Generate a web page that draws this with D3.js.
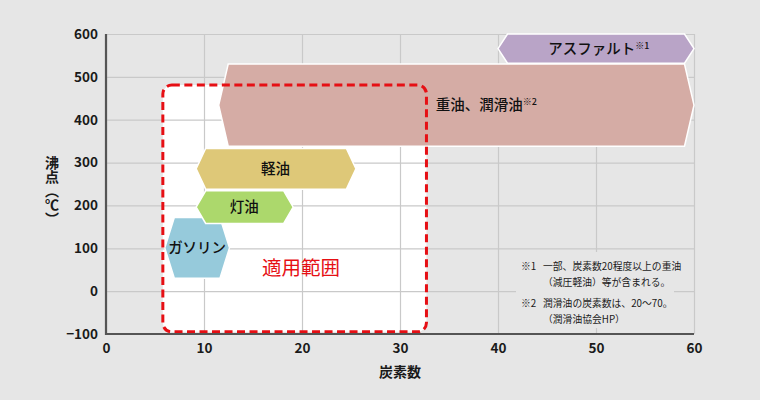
<!DOCTYPE html>
<html><head><meta charset="utf-8">
<script src="https://cdn.jsdelivr.net/npm/d3@7"></script>
<style>
html,body{margin:0;padding:0;background:#e6e6e6;}
svg{display:block;font-family:"Noto Sans CJK JP","Noto Sans",sans-serif;}
</style></head>
<body><svg id="c" width="760" height="400"></svg>
<script>
// ---- data ----
const fuels      = ["ガソリン", "灯油", "軽油", "重油、潤滑油", "アスファルト"];
const fuelNotes  = ["", "", "", "※2", "※1"];
const carbonMin  = [6.0, 9.2, 9.2, 11.5, 40];
const carbonMax  = [12.6, 19.1, 25.5, 60, 60];
const boilMin    = [30, 158, 238, 338, 532];
const boilMax    = [172, 234, 333, 530, 600];
const labelCarbon = [9.3, 14.1, 17.3, 38.8, 50.3];
const fuelColors = ["#96cadb", "#acd86c", "#dec878", "#d5aca5", "#b9a4c7"];
const rangeCarbon = [5.8, 32.7];
const rangeBoil   = [-95, 481];
const rangeLabel  = "適用範囲";
const xTicks = [0, 10, 20, 30, 40, 50, 60];
const yTicks = [-100, 0, 100, 200, 300, 400, 500, 600];
const xTitle = "炭素数";
const yTitle = "沸点（℃）";
const noteLines = [
  ["※1", "一部、炭素数20程度以上の重油"],
  ["", "（減圧軽油）等が含まれる。"],
  ["※2", "潤滑油の炭素数は、20〜70。"],
  ["", "（潤滑油協会HP）"]
];

// ---- layout ----
const svg = d3.select("#c");
const m = {l:106, t:34, r:66, b:66};
const W = 760 - m.l - m.r, H = 400 - m.t - m.b;
const x = d3.scaleLinear().domain([0, 60]).range([m.l, m.l + W]);
const y = d3.scaleLinear().domain([-100, 600]).range([m.t + H, m.t]);

svg.append("rect").attr("width", 760).attr("height", 400).attr("fill", "#e6e6e6");

// applicable range fill
const rx0 = x(rangeCarbon[0]), rx1 = x(rangeCarbon[1]);
const ry0 = y(rangeBoil[1]), ry1 = y(rangeBoil[0]);
svg.append("rect").attr("x", rx0).attr("y", ry0).attr("width", rx1 - rx0).attr("height", ry1 - ry0)
  .attr("rx", 9).attr("fill", "#ffffff");

// grid
const gx = svg.append("g").attr("transform", `translate(0,${m.t + H})`)
  .call(d3.axisBottom(x).tickValues(xTicks).tickSize(-H).tickFormat(""));
const gy = svg.append("g").attr("transform", `translate(${m.l},0)`)
  .call(d3.axisLeft(y).tickValues(yTicks).tickSize(-W).tickFormat(""));
[gx, gy].forEach(g => { g.select(".domain").remove(); g.selectAll("line").attr("stroke", "#c9c9c9").attr("stroke-width", 1.2); });

// notes backdrop
svg.append("rect").attr("x", 516).attr("y", 252).attr("width", 158).attr("height", 76).attr("fill", "#e6e6e6");

// hexagons
const k = 9.5;
function hex(i) {
  const x0 = x(carbonMin[i]), x1 = x(carbonMax[i]);
  const yt = y(boilMax[i]), yb = y(boilMin[i]), ym = (yt + yb) / 2;
  return `M${x0},${ym}L${x0 + k},${yt}L${x1 - k},${yt}L${x1},${ym}L${x1 - k},${yb}L${x0 + k},${yb}Z`;
}
const idx = d3.range(fuels.length);
svg.append("g").selectAll("path").data(idx).join("path")
  .attr("d", hex).attr("fill", i => fuelColors[i])
  .attr("stroke", "#ffffff").attr("stroke-width", 1.5).attr("stroke-linejoin", "miter");

// labels
const lab = svg.append("g").selectAll("text").data(idx).join("text")
  .attr("x", i => x(labelCarbon[i]))
  .attr("y", i => (y(boilMax[i]) + y(boilMin[i])) / 2)
  .attr("dy", "0.36em").attr("text-anchor", "middle")
  .attr("font-size", 14.5).attr("font-weight", 500).attr("fill", "#111");
lab.append("tspan").text(i => fuels[i]);
lab.append("tspan").attr("font-size", 9).attr("dy", "-0.55em").text(i => fuelNotes[i]);

// dashed border
svg.append("rect").attr("x", rx0).attr("y", ry0).attr("width", rx1 - rx0).attr("height", ry1 - ry0)
  .attr("rx", 9).attr("fill", "none").attr("stroke", "#e60f14").attr("stroke-width", 3)
  .attr("stroke-dasharray", "8,4.5");
svg.append("text").attr("x", x(19.9)).attr("y", y(55)).attr("dy", "0.36em").attr("text-anchor", "middle")
  .attr("font-size", 19.5).attr("fill", "#e60f14").text(rangeLabel);

// axes
svg.append("line").attr("x1", m.l).attr("x2", m.l).attr("y1", m.t).attr("y2", m.t + H + 1)
  .attr("stroke", "#555").attr("stroke-width", 2.2);
svg.append("line").attr("x1", m.l - 1).attr("x2", m.l + W).attr("y1", m.t + H).attr("y2", m.t + H)
  .attr("stroke", "#555").attr("stroke-width", 2.2);

const ax = svg.append("g").attr("transform", `translate(0,${m.t + H})`)
  .call(d3.axisBottom(x).tickValues(xTicks).tickSize(0).tickPadding(9));
const ay = svg.append("g").attr("transform", `translate(${m.l},0)`)
  .call(d3.axisLeft(y).tickValues(yTicks).tickSize(0).tickPadding(8));
[ax, ay].forEach(g => {
  g.select(".domain").remove();
  g.selectAll("text").attr("font-size", 13.5).attr("font-weight", 700).attr("fill", "#1a1a1a")
    .attr("font-family", '"Noto Sans CJK JP", sans-serif');
});

svg.append("text").attr("x", x(30)).attr("y", 377).attr("text-anchor", "middle")
  .attr("font-size", 14).attr("font-weight", 700).attr("fill", "#1a1a1a").text(xTitle);
svg.append("text").attr("x", 52).attr("y", 156).attr("writing-mode", "vertical-rl")
  .style("writing-mode", "vertical-rl").style("text-orientation", "upright")
  .attr("font-size", 14).attr("font-weight", 700).attr("fill", "#1a1a1a").text(yTitle);

// notes
const nt = svg.append("g").attr("font-size", 9.8).attr("fill", "#1a1a1a");
noteLines.forEach((ln, i) => {
  const yy = [266, 282, 303, 319][i];
  if (ln[0]) nt.append("text").attr("x", 521).attr("y", yy).attr("dy", "0.36em").text(ln[0]);
  nt.append("text").attr("x", 543).attr("y", yy).attr("dy", "0.36em").text(ln[1]);
});
</script></body></html>
